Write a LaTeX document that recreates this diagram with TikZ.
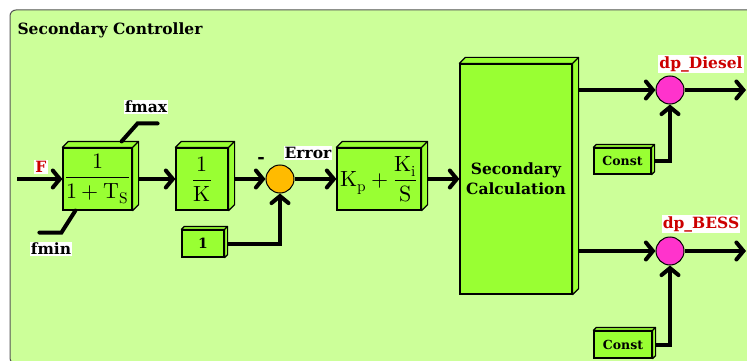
\documentclass[tikz,border=0pt]{standalone}
\usepackage{fontspec}
\usepackage{unicode-math}
\setmainfont{DejaVu Serif}
\setmathfont{Latin Modern Math}
\usetikzlibrary{arrows.meta, calc}
\definecolor{panelbg}{HTML}{CCFF99}
\definecolor{blockfill}{HTML}{99FF33}
\definecolor{sumorange}{HTML}{FFBB00}
\definecolor{summagenta}{HTML}{FF33CC}
\definecolor{labelred}{HTML}{CC0000}
\definecolor{framegray}{HTML}{555555}
\tikzset{
  block/.style={draw=black, line width=1.2pt, fill=blockfill, inner sep=0pt,
    font=\fontsize{22}{26}\selectfont},
  smallblock/.style={block, font=\bfseries\fontsize{12.5}{14}\selectfont},
  sumnode/.style={circle, draw=black, line width=1pt, minimum size=28pt, inner sep=0pt},
  sig/.style={line width=4pt, -{Straight Barb[length=7pt, width=17pt, line cap=round]}},
  lim/.style={line width=4pt, line cap=round},
  tag/.style={fill=white, inner sep=1pt, font=\bfseries\fontsize{15.5}{17}\selectfont},
}
% top and right faces of a 3d block
\newcommand{\cubefaces}[2]{%
  \filldraw[fill=blockfill, draw=black, line width=1.2pt, line join=round]
    (#1.north west) -- ++(#2,-#2) -- ($(#1.north east)+(#2,-#2)$)
    -- ($(#1.south east)+(#2,-#2)$) -- (#1.south east) -- (#1.north east) -- cycle
    (#1.north east) -- ++(#2,-#2);
}

\begin{document}
\begin{tikzpicture}[x=1pt, y=-1pt]
  \clip (0,0) rectangle (747,361);
  \fill[white] (0,0) rectangle (747,361);
  \draw[framegray, fill=panelbg, line width=1pt, rounded corners=6pt] (10,10) rectangle (790,364);
  \node[anchor=west, font=\bfseries\fontsize{15.5}{17}\selectfont] (title) at (14,30) {Secondary Controller};

  % blocks
  \node[block, minimum width=69pt, minimum height=62pt] (lpf) at (97.5,179)
    {$\displaystyle\frac{1}{1+\symup{T}_{\symup{S}}}$};
  \node[block, minimum width=52pt, minimum height=62pt] (invK) at (202,179)
    {$\displaystyle\frac{1}{\symup{K}}$};
  \node[sumnode, fill=sumorange] (sum) at (280,179) {};
  \node[smallblock, minimum width=42pt, minimum height=27pt, font=\bfseries\fontsize{14}{16}\selectfont] (one) at (203,243.5) {1};
  \node[block, minimum width=84pt, minimum height=62pt] (pi) at (379,179)
    {$\symup{K}_{\symup{p}}+\displaystyle\frac{\symup{K}_{\symup{i}}}{\symup{S}}$};
  \node[block, minimum width=112pt, minimum height=230pt, align=center,
        font=\bfseries\fontsize{15.5}{20}\selectfont] (calc) at (516,179) {Secondary\\Calculation};
  \node[sumnode, fill=summagenta] (sumD) at (670,90) {};
  \node[sumnode, fill=summagenta] (sumB) at (670,251) {};
  \node[smallblock, minimum width=57pt, minimum height=26pt] (constD) at (622.5,161) {Const};
  \node[smallblock, minimum width=58pt, minimum height=27pt] (constB) at (623,344.5) {Const};
  \cubefaces{lpf}{6}
  \cubefaces{invK}{6}
  \cubefaces{one}{3}
  \cubefaces{pi}{6}
  \cubefaces{calc}{6}
  \cubefaces{constD}{3}
  \cubefaces{constB}{3}

  % labels
  \node[tag, text=labelred] (flabel) at (41,167) {F};
  \node[tag] (fmaxlabel) at (146,107) {fmax};
  \node[tag] (fminlabel) at (51,249) {fmin};
  \node[tag] (errlabel) at (308,153) {Error};
  \node[font=\bfseries\fontsize{18}{18}\selectfont] (minus) at (261,160) {-};
  \node[tag, text=labelred] (dieseltag) at (701,64) {dp\_Diesel};
  \node[tag, text=labelred] (besstag) at (701,224) {dp\_BESS};

  % limiter
  \draw[lim] (lpf.north east) ++(-11,-6) -- ++(16,-18) -- ++(20,0);
  \draw[lim] (lpf.south west) ++(13,0) -- ++(-14,22) -- ++(-22,0);

  % signals
  \coordinate (in) at (17,179);
  \coordinate (outD) at (746,90);
  \coordinate (outB) at (746,251);
  \draw[sig] (in) -- (lpf);
  \draw[sig] (lpf.east) ++(6,0) -- (invK);
  \draw[sig] (invK.east) ++(6,0) -- (sum);
  \draw[sig] (one.east) ++(3,0) -| (sum);
  \draw[sig] (sum) -- (pi);
  \draw[sig] (pi.east) ++(6,0) -- (calc);
  \draw[sig] (calc.east |- sumD) ++(6,0) -- (sumD);
  \draw[sig] (calc.east |- sumB) ++(6,0) -- (sumB);
  \draw[sig] (constD.east) ++(3,0) -| (sumD);
  \draw[sig] (constB.east) ++(3,0) -| (sumB);
  \draw[sig] (sumD) -- (outD);
  \draw[sig] (sumB) -- (outB);
\end{tikzpicture}
\end{document}
